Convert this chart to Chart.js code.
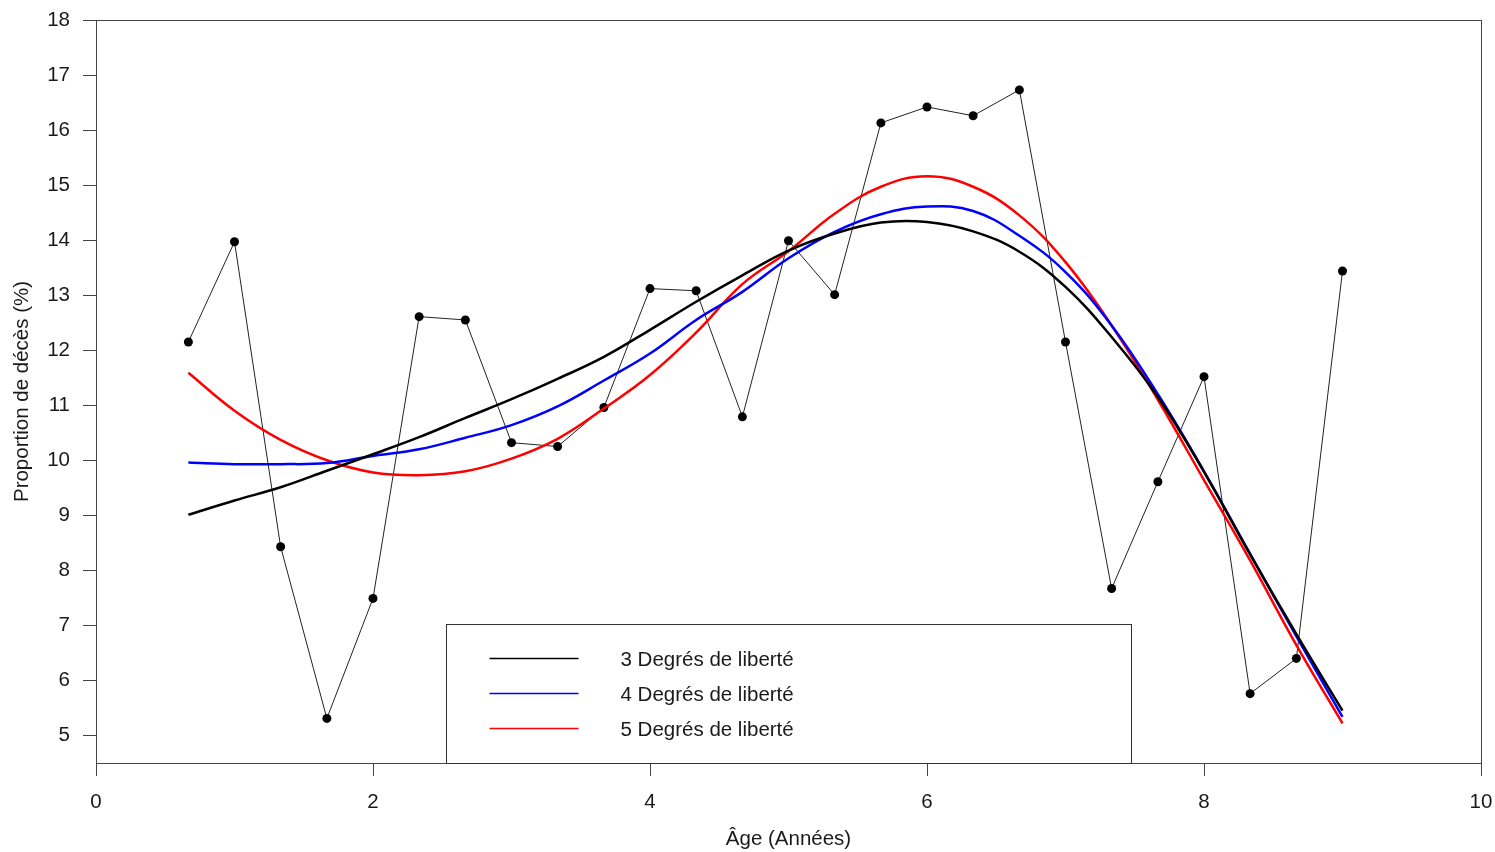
<!DOCTYPE html>
<html>
<head>
<meta charset="utf-8">
<script src="https://cdn.jsdelivr.net/npm/chart.js@4.4.0/dist/chart.umd.min.js"></script>
<style>
  body { margin: 0; background: #fff; }
  #wrap { width: 1495px; height: 852px; }
</style>
</head>
<body>
<div id="wrap"><canvas id="chart" width="1495" height="852"></canvas></div>
<script>
// age in years (4-month steps)
const ages = [0.667, 1, 1.333, 1.667, 2, 2.333, 2.667, 3, 3.333, 3.667, 4, 4.333, 4.667,
  5, 5.333, 5.667, 6, 6.333, 6.667, 7, 7.333, 7.667, 8, 8.333, 8.667, 9];

// observed proportion of deaths (%)
const observed = [12.15, 13.97, 8.43, 5.31, 7.49, 12.61, 12.55, 10.32, 10.25, 10.96, 13.12, 13.08, 10.79,
  13.99, 13.01, 16.13, 16.42, 16.26, 16.73, 12.15, 7.67, 9.61, 11.52, 5.76, 6.40, 13.44];

// smoothing splines
const df3 = [9.01, 9.27, 9.51, 9.81, 10.11, 10.42, 10.77, 11.11, 11.48, 11.88, 12.37, 12.88, 13.36,
  13.81, 14.12, 14.32, 14.33, 14.16, 13.79, 13.15, 12.24, 11.15, 9.79, 8.29, 6.84, 5.45];
const df4 = [9.96, 9.93, 9.93, 9.95, 10.08, 10.2, 10.41, 10.64, 10.98, 11.45, 11.94, 12.55, 13.06,
  13.67, 14.15, 14.47, 14.61, 14.53, 14.08, 13.42, 12.45, 11.2, 9.8, 8.3, 6.8, 5.34];
const df5 = [11.59, 10.9, 10.37, 10.0, 9.78, 9.73, 9.8, 10.03, 10.39, 10.94, 11.55, 12.32, 13.2,
  13.8, 14.48, 14.97, 15.16, 14.97, 14.45, 13.6, 12.45, 11.1, 9.64, 8.18, 6.64, 5.22];

const curveLabels = ['3 Degrés de liberté', '4 Degrés de liberté', '5 Degrés de liberté'];
const curveColors = ['#000000', '#0000ff', '#ff0000'];

const xTicks = [0, 2, 4, 6, 8, 10];
const yTicks = [5, 6, 7, 8, 9, 10, 11, 12, 13, 14, 15, 16, 17, 18];

const FONT = { family: "'Liberation Sans', Arial, sans-serif", size: 20.5 };
const AXIS_COL = '#444';
const TEXT_COL = '#1a1a1a';

const pts = arr => ages.map((a, i) => ({ x: a, y: arr[i] }));

function curve(idx, arr) {
  return {
    label: curveLabels[idx],
    data: pts(arr),
    borderColor: curveColors[idx],
    borderWidth: 2.5,
    pointRadius: 0,
    tension: 0.4,
    fill: false,
    order: 1
  };
}

// box around the plot + legend drawn R-style
const boxPlugin = {
  id: 'rbox',
  afterDatasetsDraw(chart) {
    const { ctx, chartArea: a, scales: { x, y } } = chart;
    ctx.save();
    ctx.strokeStyle = AXIS_COL;
    ctx.lineWidth = 1;
    ctx.strokeRect(Math.round(a.left) + 0.5, Math.round(a.top) + 0.5,
      Math.round(a.right - a.left), Math.round(a.bottom - a.top));

    // legend box
    const lx0 = Math.round(x.getPixelForValue(2.525)) + 0.5;
    const lx1 = Math.round(x.getPixelForValue(7.47)) + 0.5;
    const ly0 = Math.round(y.getPixelForValue(7.02)) + 0.5;
    const ly1 = Math.round(a.bottom) + 0.5;
    ctx.fillStyle = '#fff';
    ctx.fillRect(lx0, ly0, lx1 - lx0, ly1 - ly0);
    ctx.strokeStyle = '#333';
    ctx.strokeRect(lx0, ly0, lx1 - lx0, ly1 - ly0);

    ctx.font = FONT.size + 'px ' + FONT.family;
    ctx.textBaseline = 'middle';
    ctx.textAlign = 'left';
    curveLabels.forEach((lab, i) => {
      const yy = ly0 + 34 + i * 35;
      ctx.strokeStyle = curveColors[i];
      ctx.lineWidth = 1.5;
      ctx.beginPath();
      ctx.moveTo(lx0 + 43, yy);
      ctx.lineTo(lx0 + 132, yy);
      ctx.stroke();
      ctx.fillStyle = TEXT_COL;
      ctx.fillText(lab, lx0 + 174, yy + 2);
    });
    ctx.restore();
  }
};

new Chart(document.getElementById('chart'), {
  type: 'line',
  data: {
    datasets: [
      {
        label: 'Observé',
        data: pts(observed),
        borderColor: '#222',
        borderWidth: 1,
        pointRadius: 4.5,
        pointBorderWidth: 0,
        pointBackgroundColor: '#000',
        tension: 0,
        fill: false,
        order: 2
      },
      curve(0, df3),
      curve(1, df4),
      curve(2, df5)
    ]
  },
  options: {
    responsive: false,
    animation: false,
    devicePixelRatio: 1,
    layout: { padding: { top: 20, right: 14, bottom: 0, left: 0 } },
    plugins: { legend: { display: false }, tooltip: { enabled: false } },
    scales: {
      x: {
        type: 'linear',
        min: 0,
        max: 10,
        afterBuildTicks: s => { s.ticks = xTicks.map(v => ({ value: v })); },
        afterFit: s => { s.height = 89; s.paddingLeft = 0; s.paddingRight = 0; },
        grid: { drawOnChartArea: false, drawTicks: true, tickLength: 13, color: AXIS_COL },
        border: { display: false },
        ticks: { font: FONT, color: TEXT_COL, padding: 14, maxRotation: 0 },
        title: { display: true, text: 'Âge (Années)', font: FONT, color: TEXT_COL, padding: { top: 0, bottom: 0 } }
      },
      y: {
        min: 4.5,
        max: 18,
        afterBuildTicks: s => { s.ticks = yTicks.map(v => ({ value: v })); },
        afterFit: s => { s.width = 96; s.paddingTop = 0; s.paddingBottom = 0; },
        grid: { drawOnChartArea: false, drawTicks: true, tickLength: 13, color: AXIS_COL },
        border: { display: false },
        ticks: { font: FONT, color: TEXT_COL, padding: 13 },
        title: { display: true, text: 'Proportion de décès (%)', font: FONT, color: TEXT_COL, padding: { top: 10, bottom: 0 } }
      }
    }
  },
  plugins: [boxPlugin]
});
</script>
</body>
</html>
